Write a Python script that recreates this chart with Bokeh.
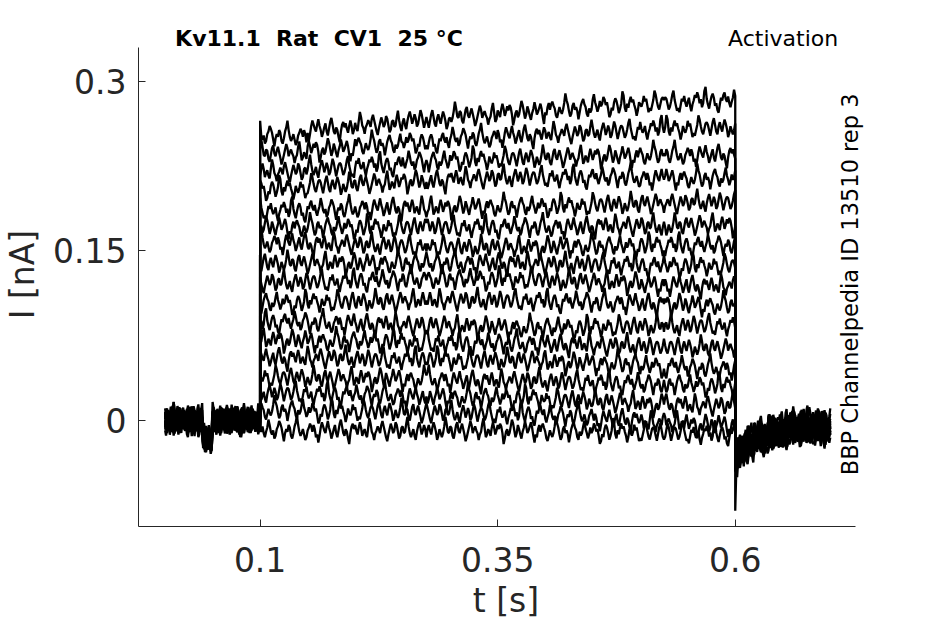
import numpy as np
from bokeh.plotting import figure
from bokeh.models import FixedTicker, Range1d, Label
from bokeh.embed import file_html
from bokeh.resources import INLINE

# ---- data (current in nA, time in s) ----
# pulse level of each sweep in ten 0.05 s segments between 0.1 s and 0.6 s
LEVELS = [
    [0.252, 0.258, 0.262, 0.266, 0.270, 0.273, 0.276, 0.279, 0.281, 0.283],
    [0.236, 0.240, 0.244, 0.247, 0.250, 0.252, 0.254, 0.256, 0.258, 0.259],
    [0.220, 0.223, 0.226, 0.229, 0.231, 0.232, 0.233, 0.234, 0.235, 0.235],
    [0.205, 0.208, 0.210, 0.212, 0.214, 0.215, 0.215, 0.215, 0.214, 0.214],
    [0.186, 0.187, 0.188, 0.188, 0.189, 0.189, 0.190, 0.191, 0.192, 0.193],
    [0.171, 0.171, 0.171, 0.171, 0.171, 0.171, 0.171, 0.172, 0.172, 0.173],
    [0.157, 0.156, 0.155, 0.154, 0.153, 0.153, 0.154, 0.154, 0.155, 0.155],
    [0.139, 0.139, 0.139, 0.139, 0.139, 0.139, 0.138, 0.138, 0.137, 0.137],
    [0.122, 0.123, 0.124, 0.125, 0.125, 0.125, 0.123, 0.122, 0.120, 0.119],
    [0.104, 0.105, 0.105, 0.106, 0.106, 0.106, 0.105, 0.104, 0.103, 0.102],
    [0.087, 0.086, 0.085, 0.084, 0.083, 0.082, 0.082, 0.083, 0.083, 0.084],
    [0.071, 0.070, 0.070, 0.069, 0.068, 0.068, 0.067, 0.066, 0.065, 0.064],
    [0.055, 0.055, 0.054, 0.054, 0.053, 0.053, 0.051, 0.050, 0.048, 0.046],
    [0.038, 0.037, 0.037, 0.036, 0.035, 0.035, 0.034, 0.033, 0.032, 0.031],
    [0.024, 0.023, 0.022, 0.021, 0.020, 0.020, 0.018, 0.016, 0.014, 0.013],
    [0.009, 0.008, 0.008, 0.007, 0.006, 0.006, 0.004, 0.001, -0.002, -0.004],
    [-0.009, -0.009, -0.009, -0.009, -0.009, -0.009, -0.010, -0.010, -0.011, -0.012],
]
PRE_LEVEL = [0.002, -0.003, 0.003, -0.001, 0.000, 0.004, -0.004, 0.001,
             -0.002, 0.003, 0.000, -0.003, 0.002, -0.004, 0.001, -0.002, 0.000]
POST_LEVEL = [-0.012, -0.008, -0.004, -0.010, 0.001, -0.006, -0.013, -0.002,
              -0.009, -0.005, 0.002, -0.011, -0.007, -0.003, -0.014, -0.001, -0.008]
DIP_START, DIP_END, DIP_DEPTH = 0.040, 0.049, -0.017
TAIL_EDGES = [0.6, 0.603, 0.61, 0.62, 0.635, 0.655, 0.701]
TAIL_EXTRA = [-0.030, -0.022, -0.015, -0.009, -0.004, 0.0]
ON_PEAK, OFF_PEAK, OFF_DIP = 0.265, 0.287, -0.080
# recording noise (in 1.2 pA steps)
NOISE = [2, 4, 3, -1, -5, -3, 1, 6, 9, 2, -2, -6, -4, -7, -2, 3, 1, 5, 0, -3,
         -1, 2, -4, -8, -3, 0, 4, 2, 6, 3, -2, 1, -5, -2, 7, 10, 1, -3, -6, -1,
         3, 5, 2, -4, -2, -7, -9, -3, 2, 0, 4, 6, 1, -1, 3, -2, -5, -1, 2, 8,
         4, -1, -3, 0, -6, -4, 1, 3, 7, 5, 2, -3, -8, -2, 1, -1, 4, 2, -4, -6,
         -2, 3, 6, 11, 4, -1, -4, -2, 1, -3, -7, -5, 0, 2, 5, 3, -1, 4, 1, -5,
         -3, -9, -4, 2, 6, 3, 0, -2, 3, 7, 2, -1, -6, -3, 1, 4, -2, -5, 0, 5,
         8, 3, -2, -4, 1, -1, -6, -10, -2, 3, 5, 1, 4, 0, -3, 2, 6, 2, -4, -1,
         1, -3, -5, 2, 9, 5, -1, -3, -7, -2, 0, 3, 1, -2, 4, 7, 3, -1, -5, -8,
         -3, 1, 5, 2, -2, 0, 6, 4, -1, -6, -4, 2, 3, -2, -1, 5, 10, 3, -2, -5,
         -2, 1, -4, -7, -1, 3, 6, 2, -3, 0, 4, 1, -5, -3, 2, 7, 4, -1, -6, -2]
NOISE_UNIT = 0.0012
X_TICKS = [0.1, 0.35, 0.6]
X_LABELS = ["0.1", "0.35", "0.6"]
Y_TICKS = [0.0, 0.15, 0.3]
Y_LABELS = ["0", "0.15", "0.3"]
TITLE_LEFT = "Kv11.1\u00a0 Rat\u00a0 CV1\u00a0 25 °C"
TITLE_RIGHT = "Activation"
SIDE_TEXT = "BBP Channelpedia ID 13510 rep 3"

# ---- build sweeps ----
t_pre = np.linspace(0.0, 0.1, 101)
t_pulse = np.linspace(0.1, 0.6, 401)
t_post = np.linspace(0.6, 0.7, 101)
N = len(NOISE)

xs, ys = [], []
for k in range(len(LEVELS)):
    def nz(j):
        forward = ((j // N) + k) % 2 == 0
        idx = (37 * k + j) % N if forward else (37 * k - j) % N
        return NOISE[idx] * NOISE_UNIT
    y_pre = []
    for j, t in enumerate(t_pre):
        v = PRE_LEVEL[k] + nz(j)
        if DIP_START <= t <= DIP_END:
            v += DIP_DEPTH
        y_pre.append(v)
    y_pulse = []
    for j, t in enumerate(t_pulse):
        seg = min(int((t - 0.1) / 0.05 + 1e-9), 9)
        y_pulse.append(LEVELS[k][seg] + nz(j + 60))
    y_post = []
    for j, t in enumerate(t_post):
        s = 0
        while s < len(TAIL_EXTRA) - 1 and t >= TAIL_EDGES[s + 1]:
            s += 1
        y_post.append(POST_LEVEL[k] + TAIL_EXTRA[s] + nz(j + 11))
    if k == 0:
        y_pulse[0] = ON_PEAK
        y_pulse[-1] = OFF_PEAK
        y_post[0] = OFF_DIP
    xs.append(list(t_pre) + list(t_pulse) + list(t_post))
    ys.append(y_pre + y_pulse + y_post)

# ---- figure ----
AX = "#262626"
FONT = "DejaVu Sans"
p = figure(width=945, height=624, output_backend="svg", toolbar_location=None,
           x_range=Range1d(-0.028, 0.7455), y_range=Range1d(-0.094, 0.352),
           min_border_left=138, min_border_right=72, min_border_top=22,
           min_border_bottom=98)
p.outline_line_color = None
p.grid.visible = False
p.background_fill_color = "white"
p.border_fill_color = "white"

p.multi_line(xs, ys, line_color="black", line_width=2.3)

for ax, ticks, labels in ((p.xaxis[0], X_TICKS, X_LABELS), (p.yaxis[0], Y_TICKS, Y_LABELS)):
    ax.ticker = FixedTicker(ticks=ticks)
    ax.major_label_overrides = {t: l for t, l in zip(ticks, labels)}
    ax.minor_tick_line_color = None
    ax.major_tick_in = 7
    ax.major_tick_out = 0
    ax.axis_line_color = AX
    ax.major_tick_line_color = AX
    ax.major_label_text_color = AX
    ax.major_label_text_font = FONT
    ax.major_label_text_font_size = "33px"
    ax.axis_label_text_font = FONT
    ax.axis_label_text_font_size = "33px"
    ax.axis_label_text_font_style = "normal"
    ax.axis_label_text_color = AX

p.xaxis.bounds = (-0.028, 0.727)
p.yaxis.bounds = (-0.094, 0.330)
p.xaxis.axis_label = "t [s]"
p.yaxis.axis_label = "I [nA]"
p.xaxis.major_label_standoff = 20
p.yaxis.major_label_standoff = 12
p.xaxis.axis_label_standoff = 6
p.yaxis.axis_label_standoff = 8

p.add_layout(Label(x=0.0105, y=0.3374, text=TITLE_LEFT, text_font=FONT,
                   text_font_size="22px", text_font_style="bold", text_color="black",
                   text_align="left", text_baseline="alphabetic"))
p.add_layout(Label(x=0.7084, y=0.3374, text=TITLE_RIGHT, text_font=FONT,
                   text_font_size="22px", text_color="black",
                   text_align="right", text_baseline="alphabetic"))
p.add_layout(Label(x=0.721, y=-0.0487, text=SIDE_TEXT, text_font=FONT,
                   text_font_size="22.5px", text_color="black", angle=np.pi / 2,
                   text_align="left", text_baseline="alphabetic"))

open("out.html", "w").write(file_html(p, INLINE))
